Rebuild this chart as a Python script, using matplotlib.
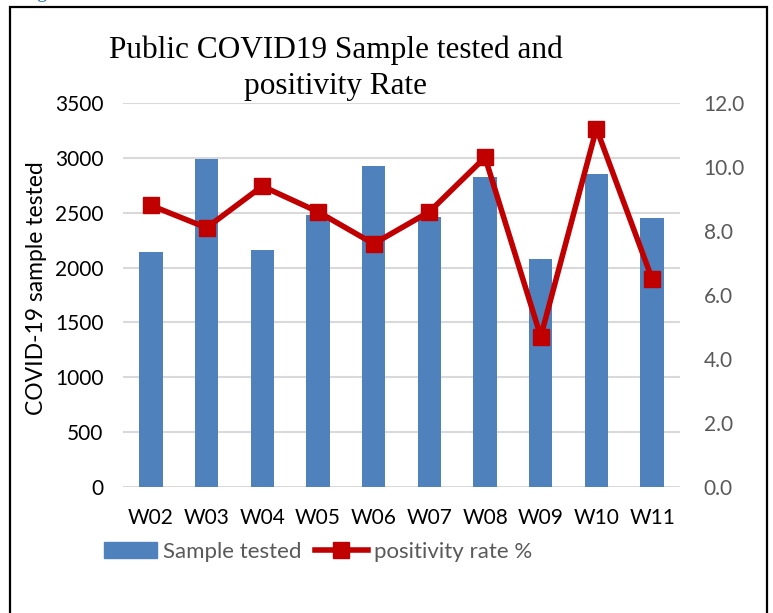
import matplotlib
matplotlib.use("Agg")
import matplotlib.pyplot as plt
from matplotlib.patches import Rectangle
from matplotlib.lines import Line2D

# data
weeks = ["W02", "W03", "W04", "W05", "W06", "W07", "W08", "W09", "W10", "W11"]
samples = [2140, 2990, 2160, 2480, 2930, 2465, 2830, 2075, 2850, 2450]
positivity = [8.8, 8.1, 9.4, 8.6, 7.6, 8.6, 10.3, 4.7, 11.2, 6.5]

left_ticks = [0, 500, 1000, 1500, 2000, 2500, 3000, 3500]
right_ticks = [0, 2, 4, 6, 8, 10, 12]

blue = "#4F81BD"
red = "#C00000"
grey = "#595959"

plt.rcParams['font.family'] = ['Lato', 'DejaVu Sans']

fig = plt.figure(figsize=(7.73, 6.13), dpi=100)

# outer frame round the chart
fig.patches.append(Rectangle((10/773, -0.05), 757/773, 1.05 - 7/613,
                             transform=fig.transFigure, fill=False,
                             edgecolor="black", linewidth=1.6))
# bit of the page caption cut off above the frame
fig.text(36/773, 1 + 3/613, "g", color="#2E74B5", fontsize=15,
         family="Liberation Serif", va="baseline")

ax = fig.add_axes([123/773, 1 - 487/613, 557/773, 384/613])
x = list(range(len(weeks)))
ax.bar(x, samples, width=0.42, color=blue, zorder=2)
ax.set_xlim(-0.5, len(weeks) - 0.5)
ax.set_ylim(0, 3500)
ax.set_yticks(left_ticks)
ax.set_yticklabels([str(t) for t in left_ticks], fontsize=15, color="black")
ax.set_xticks(x)
ax.set_xticklabels(weeks, fontsize=15, color="black")
ax.tick_params(axis="y", length=0, pad=14)
ax.tick_params(axis="x", length=0, pad=15)
ax.grid(axis="y", color="#D9D9D9", linewidth=1.5, zorder=0)
for s in ax.spines.values():
    s.set_visible(False)

fig.text(37/773, 1 - 288/613, "COVID-19 sample tested", rotation=90,
         ha="center", va="center", fontsize=16.5, color="black")

ax2 = ax.twinx()
ax2.plot(x, positivity, color=red, linewidth=4, marker="s", markersize=12,
         zorder=3)
ax2.set_ylim(0, 12)
ax2.set_yticks(right_ticks)
ax2.set_yticklabels(["%.1f" % t for t in right_ticks], fontsize=15, color=grey)
ax2.tick_params(length=0, pad=17)
for s in ax2.spines.values():
    s.set_visible(False)

fig.text(336/773, 1 - 68/613, "Public COVID19 Sample tested and\npositivity Rate",
         ha="center", va="center", fontsize=22.5, family="Liberation Serif",
         linespacing=1.3)

handles = [Rectangle((0, 0), 1, 1, color=blue),
           Line2D([], [], color=red, linewidth=4, marker="s", markersize=12)]
fig.legend(handles, ["Sample tested", "positivity rate %"],
           loc="center left", bbox_to_anchor=(104/773, 1 - 552/613),
           ncol=2, frameon=False, fontsize=16, labelcolor=grey,
           borderaxespad=0, borderpad=0,
           handlelength=2.4, handletextpad=0.25, columnspacing=0.6)

fig.savefig("out.png", dpi=100)
